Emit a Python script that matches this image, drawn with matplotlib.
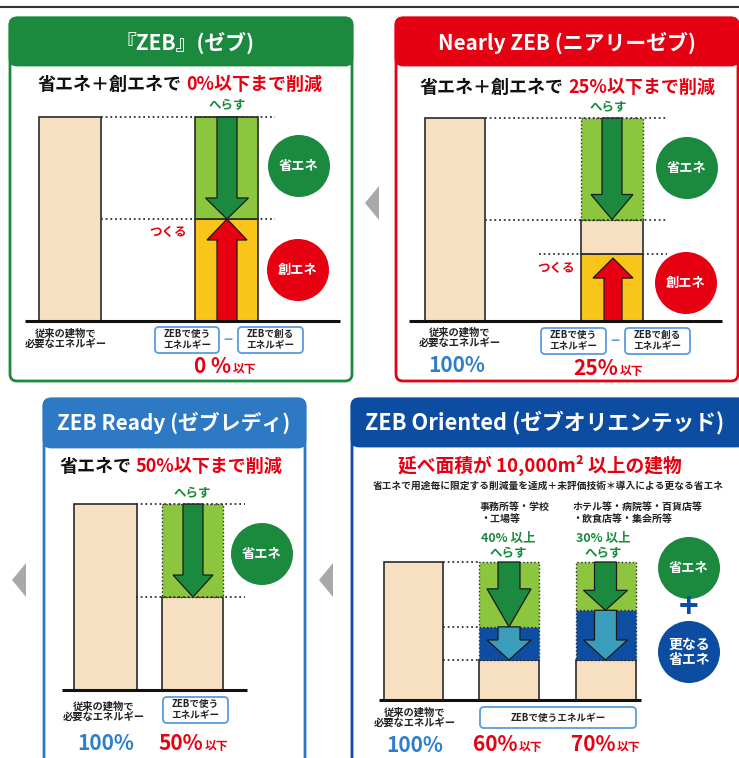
import matplotlib
matplotlib.use("Agg")
import matplotlib.pyplot as plt
from matplotlib.patches import FancyBboxPatch, Rectangle, Circle, Polygon

plt.rcParams['font.family'] = ['Noto Sans CJK JP', 'DejaVu Sans']

# ---------------- data ----------------
panel_titles = ["『ZEB』(ゼブ)", "Nearly ZEB (ニアリーゼブ)",
                "ZEB Ready (ゼブレディ)", "ZEB Oriented (ゼブオリエンテッド)"]
conventional = [100, 100, 100, 100]
zeb_saving, zeb_creation = 50, 50
nearly_saving, nearly_remaining, nearly_creation = 50, 17, 33
ready_saving, ready_remaining = 50, 50
oriented_categories = ["事務所等・学校\n・工場等", "ホテル等・病院等・百貨店等\n・飲食店等・集会所等"]
oriented_target_labels = ["40% 以上\nへらす", "30% 以上\nへらす"]
oriented_saving = [47, 35]
oriented_further = [24, 36]
oriented_remaining = [29, 29]
result_numbers = ["0 %", "25%", "50%", "60%", "70%"]
base_label = "100%"

# ---------------- style ----------------
W, H = 739, 758
GREEN_H = '#1b8a3e'; RED_H = '#e50012'; READY_B = '#2e79c4'; ORI_B = '#0c4da2'
LGREEN = '#8cc63e'; DGREEN = '#1b8a3e'; YELLOW = '#f9c51b'; RED = '#e60012'
BEIGE = '#f7dfc1'; BAND = '#0d4ea3'; TEAL = '#3a9dbb'; LBLUE = '#2d7fcc'
BOXEDGE = '#5a9be0'; DARK = '#2a2a2a'
DOT = (0, (1, 1.6))

fig = plt.figure(figsize=(W / 100, H / 100), dpi=100)
ov = fig.add_axes([0, 0, 1, 1])
ov.set_xlim(0, W); ov.set_ylim(H, 0); ov.axis('off')

ov.plot([0, W], [7, 7], color='#333333', lw=1.5)


def panel(x0, y0, x1, y1, hb, color, title, tx, ty, size=15):
    ov.add_patch(FancyBboxPatch((x0, y0), x1 - x0, y1 - y0,
                                boxstyle="round,pad=0,rounding_size=7",
                                fc='white', ec=color, lw=2))
    ov.add_patch(FancyBboxPatch((x0, y0), x1 - x0, hb - y0,
                                boxstyle="round,pad=0,rounding_size=7",
                                fc=color, ec=color, lw=2))
    ov.add_patch(Rectangle((x0, hb - 10), x1 - x0, 10, fc=color, ec='none'))
    ov.text(tx, ty, title, color='white', fontsize=size, fontweight='bold',
            ha='center', va='center')


panel(10, 18, 352, 381, 65, GREEN_H, panel_titles[0], 185, 43)
panel(396, 18, 738, 381, 65, RED_H, panel_titles[1], 567, 43)
panel(44, 399, 305, 775, 447, READY_B, panel_titles[2], 174, 423)
panel(352, 399, 745, 775, 446, ORI_B, panel_titles[3], 545, 423, size=15.7)

# gray triangles
for tip, base, yc in [(365, 379, 203), (12, 26, 580), (319, 333, 580)]:
    ov.add_patch(Polygon([(tip, yc), (base, yc - 17), (base, yc + 17)],
                         closed=True, fc='#a9a9a9', ec='none'))


def two_tone(xs, y, a, b, size=13, ca='#111111', cb=RED):
    ov.text(xs, y, a, ha='right', va='center', fontsize=size, fontweight='bold', color=ca)
    ov.text(xs + 5, y, b, ha='left', va='center', fontsize=size, fontweight='bold', color=cb)


two_tone(181, 84, "省エネ＋創エネで", "0%以下まで削減")
two_tone(563, 87, "省エネ＋創エネで", "25%以下まで削減")
two_tone(131, 466, "省エネで", "50%以下まで削減")
ov.text(540, 465, "延べ面積が 10,000m² 以上の建物", ha='center', va='center',
        fontsize=13.5, fontweight='bold', color=RED)
ov.text(548, 486, "省エネで用途毎に限定する削減量を達成＋未評価技術＊導入による更なる省エネ",
        ha='center', va='center', fontsize=7.0, fontweight='bold', color='#222222')


def circle(xc, yc, text, color, r=31, size=9.5):
    ov.add_patch(Circle((xc, yc), r, fc=color, ec='none'))
    ov.text(xc, yc, text, ha='center', va='center', color='white',
            fontsize=size, fontweight='bold', linespacing=1.1)


circle(299, 166, "省エネ", GREEN_H)
circle(298, 270, "創エネ", RED)
circle(687, 168, "省エネ", GREEN_H)
circle(686, 283, "創エネ", RED)
circle(262, 554, "省エネ", GREEN_H)
circle(689, 568, "省エネ", GREEN_H)
circle(689, 652, "更なる\n省エネ", ORI_B, size=10)
ov.text(689, 609, "+", ha='center', va='center', fontsize=24, fontweight='bold', color=ORI_B)


def small(x, y, s, color='#222222', size=7.4, ha='center'):
    ov.text(x, y, s, ha=ha, va='center', fontsize=size, fontweight='bold',
            color=color, linespacing=1.15)


def labbox(x0, y0, x1, y1, s):
    ov.add_patch(FancyBboxPatch((x0, y0), x1 - x0, y1 - y0,
                                boxstyle="round,pad=0,rounding_size=4",
                                fc='white', ec=BOXEDGE, lw=1.3))
    small((x0 + x1) / 2, (y0 + y1) / 2, s, size=6.9)


conv_txt = "従来の建物で\n必要なエネルギー"
small(66, 339, conv_txt)
small(460, 338, conv_txt)
small(104, 712, conv_txt)
small(415, 718, conv_txt)
labbox(155, 327, 219, 353, "ZEBで使う\nエネルギー")
labbox(238, 327, 303, 353, "ZEBで創る\nエネルギー")
ov.text(228, 340, "−", ha='center', va='center', color=BOXEDGE, fontsize=11, fontweight='bold')
labbox(541, 328, 606, 354, "ZEBで使う\nエネルギー")
labbox(625, 328, 690, 354, "ZEBで創る\nエネルギー")
ov.text(615, 341, "−", ha='center', va='center', color=BOXEDGE, fontsize=11, fontweight='bold')
labbox(163, 697, 228, 723, "ZEBで使う\nエネルギー")
labbox(480, 707, 636, 728, "ZEBで使うエネルギー")


def result(xs, y, num, size=15):
    ov.text(xs, y, num, ha='right', va='baseline', fontsize=size, fontweight='bold', color=RED)
    ov.text(xs + 2, y, "以下", ha='left', va='baseline', fontsize=8.5, fontweight='bold', color=RED)


result(231, 373, result_numbers[0])
result(618, 375, result_numbers[1])
result(203, 750, result_numbers[2])
result(517, 751, result_numbers[3])
result(615, 751, result_numbers[4])
for x, y in [(457, 372), (106, 750), (415, 752)]:
    ov.text(x, y, base_label, ha='center', va='baseline', fontsize=15, fontweight='bold', color=LBLUE)

small(227, 106, "へらす", color=DGREEN, size=9)
small(608, 108, "へらす", color=DGREEN, size=9)
small(192, 494, "へらす", color=DGREEN, size=9)
small(168, 232, "つくる", color=RED, size=9)
small(556, 268, "つくる", color=RED, size=9)
small(480, 513, oriented_categories[0], size=7.2, ha='left')
small(572, 513, oriented_categories[1], size=7.2, ha='left')
small(508, 546, oriented_target_labels[0], color=DGREEN, size=9)
small(603, 546, oriented_target_labels[1], color=DGREEN, size=9)


# ---------------- chart axes ----------------
def chart(x0, x1, y0, y1, baseline, top):
    ax = fig.add_axes([x0 / W, 1 - y1 / H, (x1 - x0) / W, (y1 - y0) / H])
    s = 100.0 / (baseline - top)
    ax.set_xlim(x0, x1)
    ax.set_ylim((baseline - y1) * s, (baseline - y0) * s)
    ax.axis('off')
    ax.patch.set_alpha(0)
    return ax, s


def arrow(ax, s, xc, y_from, y_to, sw, hw, hl_px, color):
    d = 1 if y_to > y_from else -1
    yn = y_to - d * hl_px * s
    pts = [(xc - sw / 2, y_from), (xc - sw / 2, yn), (xc - hw / 2, yn), (xc, y_to),
           (xc + hw / 2, yn), (xc + sw / 2, yn), (xc + sw / 2, y_from)]
    ax.add_patch(Polygon(pts, closed=True, fc=color, ec='#1a1a1a', lw=0.9, zorder=4))


def dotted(ax, y, xa, xb):
    ax.plot([xa, xb], [y, y], color='#333333', lw=1.3, ls=DOT, zorder=5)


def base(ax, xa, xb):
    ax.plot([xa, xb], [0, 0], color='#111111', lw=2.2, zorder=6, solid_capstyle='butt')


# Panel 1: ZEB
ax, s = chart(10, 352, 65, 381, 321, 117)
ax.bar(70, conventional[0], 62, color=BEIGE, edgecolor=DARK, lw=1.2)
ax.bar(226.5, zeb_creation, 63, color=YELLOW, edgecolor=DARK, lw=1.2)
ax.bar(226.5, zeb_saving, 63, bottom=zeb_creation, color=LGREEN, edgecolor=DARK, lw=1.2)
dotted(ax, conventional[0], 101, 275)
dotted(ax, zeb_creation, 101, 275)
arrow(ax, s, 227, conventional[0], conventional[0] - zeb_saving, 20, 43, 21, DGREEN)
arrow(ax, s, 227, 0, zeb_creation, 20, 40, 21, RED)
base(ax, 25, 340)

# Panel 2: Nearly ZEB
ax, s = chart(396, 738, 65, 381, 321, 118)
ax.bar(455, conventional[1], 60, color=BEIGE, edgecolor=DARK, lw=1.2)
ax.bar(612, nearly_creation, 62, color=YELLOW, edgecolor=DARK, lw=1.2)
ax.bar(612, nearly_remaining, 62, bottom=nearly_creation, color=BEIGE, edgecolor=DARK, lw=1.2)
ax.bar(612, nearly_saving, 62, bottom=nearly_creation + nearly_remaining,
       color=LGREEN, edgecolor=DARK, lw=1.0, ls=':')
dotted(ax, conventional[1], 485, 667)
dotted(ax, nearly_creation + nearly_remaining, 485, 667)
dotted(ax, nearly_creation, 539, 667)
arrow(ax, s, 612, conventional[1], conventional[1] - nearly_saving, 20, 42, 25, DGREEN)
arrow(ax, s, 613, 0, nearly_creation - 2, 18, 40, 20, RED)
base(ax, 409, 722)

# Panel 3: ZEB Ready
ax, s = chart(44, 305, 447, 758, 690, 504)
ax.bar(105, conventional[2], 63, color=BEIGE, edgecolor=DARK, lw=1.2)
ax.bar(192, ready_remaining, 61, color=BEIGE, edgecolor=DARK, lw=1.2)
ax.bar(192, ready_saving, 61, bottom=ready_remaining, color=LGREEN, edgecolor=DARK, lw=1.0, ls=':')
dotted(ax, conventional[2], 136, 245)
dotted(ax, ready_remaining, 136, 245)
arrow(ax, s, 193, conventional[2], ready_remaining, 20, 40, 22, DGREEN)
base(ax, 62, 247)

# Panel 4: ZEB Oriented
ax, s = chart(352, 739, 447, 758, 700, 562)
ax.bar(413.5, conventional[3], 59, color=BEIGE, edgecolor=DARK, lw=1.2)
for xc, sv, fu, rem in zip([509, 605.5], oriented_saving, oriented_further, oriented_remaining):
    ax.bar(xc, rem, 60, color=BEIGE, edgecolor=DARK, lw=1.2)
    ax.bar(xc, fu, 60, bottom=rem, color=BAND, edgecolor=DARK, lw=1.0, ls=':')
    ax.bar(xc, sv, 60, bottom=rem + fu, color=LGREEN, edgecolor=DARK, lw=1.0, ls=':')
    arrow(ax, s, xc, rem + fu + sv, rem + fu, 22, 44, 38 if sv > 40 else 20, DGREEN)
    arrow(ax, s, xc, rem + fu, rem, 22, 44, 20, TEAL)
dotted(ax, conventional[3], 443, 480)
dotted(ax, oriented_remaining[0] + oriented_further[0], 443, 480)
dotted(ax, oriented_remaining[0], 443, 480)
base(ax, 379, 641)

fig.savefig("out.png", dpi=100)
